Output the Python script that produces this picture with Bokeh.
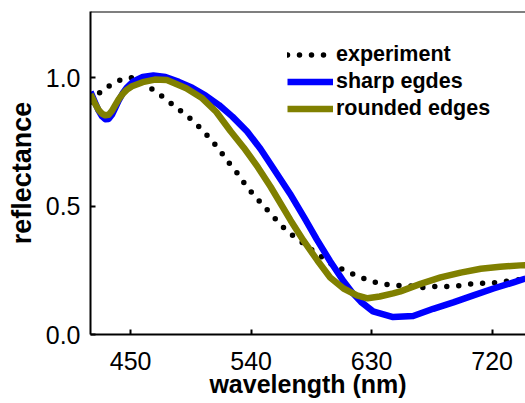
from bokeh.plotting import figure
from bokeh.models import Span, FixedTicker, Range1d, PrintfTickFormatter
from bokeh.embed import file_html
from bokeh.resources import INLINE

# Measured spectrum (dotted) and two simulations
exp_wl = [421, 429, 436.4, 443.2, 452.1, 459.6, 467.0, 474.5, 482.0, 489.5, 496.9,
          504.4, 511.1, 517.1, 523.1, 529.8, 535.0, 541.0, 547.7, 554.4, 561.2,
          567.9, 575.3, 582.8, 590.3, 597.7, 606.7, 616.4, 626.1, 635.8, 646.3,
          656.0, 667.9, 678.4, 688.1, 697.8, 707.5, 715.7, 724.7, 733.7, 742.6, 745]
exp_R = [0.905, 0.954, 0.974, 0.993, 1.001, 0.978, 0.951, 0.923, 0.892, 0.861, 0.830,
         0.791, 0.752, 0.713, 0.670, 0.627, 0.588, 0.549, 0.510, 0.471, 0.432,
         0.397, 0.370, 0.339, 0.312, 0.280, 0.257, 0.234, 0.214, 0.199, 0.191,
         0.191, 0.183, 0.187, 0.187, 0.191, 0.199, 0.199, 0.203, 0.210, 0.214, 0.215]

sharp_wl = [420, 423, 426, 428.5, 431, 433.5, 436, 438.5, 441, 444, 447, 452, 459,
            467, 476, 486, 496, 506, 516, 526, 537, 547, 557, 569, 580, 589, 599,
            609, 616, 622, 631, 646, 661, 676, 691, 706, 721, 736, 745]
sharp_R = [0.945, 0.908, 0.872, 0.850, 0.838, 0.839, 0.855, 0.882, 0.910, 0.938,
           0.960, 0.985, 1.002, 1.008, 1.002, 0.983, 0.960, 0.930, 0.893, 0.848,
           0.790, 0.722, 0.643, 0.548, 0.452, 0.370, 0.285, 0.207, 0.160, 0.127,
           0.090, 0.068, 0.072, 0.100, 0.125, 0.152, 0.179, 0.203, 0.218]

round_wl = [420, 423, 426, 428.5, 431, 433.5, 436, 438.5, 441, 444, 447, 451, 459,
            468, 477, 491.5, 503.5, 514, 524.5, 534.5, 545, 554.5, 569.5, 579,
            589.5, 599, 609, 619, 627, 636, 646, 651.5, 666.5, 681.5, 696.5,
            711.5, 726, 741, 745]
round_R = [0.935, 0.902, 0.874, 0.860, 0.853, 0.855, 0.870, 0.893, 0.915, 0.936,
           0.952, 0.966, 0.982, 0.992, 0.990, 0.958, 0.919, 0.866, 0.792, 0.727,
           0.651, 0.575, 0.444, 0.366, 0.288, 0.222, 0.179, 0.152, 0.141, 0.148,
           0.160, 0.168, 0.197, 0.222, 0.241, 0.256, 0.264, 0.269, 0.270]

x_ticks = [450, 540, 630, 720]
y_ticks = [0.0, 0.5, 1.0]

X_MIN, X_MAX = 420, 744.9
Y_MIN, Y_MAX = 0.0, 1.257

p = figure(width=525, height=403, frame_width=435, frame_height=323,
           output_backend="svg", toolbar_location=None,
           x_range=Range1d(X_MIN, X_MAX), y_range=Range1d(Y_MIN, Y_MAX),
           min_border_left=90, min_border_right=0, min_border_top=11,
           min_border_bottom=69)
p.outline_line_color = None
p.xgrid.visible = False
p.ygrid.visible = False
p.background_fill_color = "white"
p.border_fill_color = "white"

p.line(exp_wl, exp_R, line_color="black", line_width=5.5, line_dash="0 12",
       line_cap="round", legend_label="experiment")
p.line(sharp_wl, sharp_R, line_color="#0000ff", line_width=6.5,
       line_join="round", legend_label="sharp egdes")
p.line(round_wl, round_R, line_color="#808000", line_width=6.5,
       line_join="round", legend_label="rounded edges")

# top spine only
p.add_layout(Span(location=Y_MAX, dimension="width", line_color="black", line_width=2))

for ax in (p.xaxis[0], p.yaxis[0]):
    ax.axis_line_width = 2
    ax.axis_line_color = "black"
    ax.major_tick_line_width = 2
    ax.major_tick_in = 5
    ax.major_tick_out = 0
    ax.minor_tick_line_color = None
    ax.major_label_text_font = "Liberation Sans"
    ax.major_label_text_font_size = "25px"
    ax.major_label_text_color = "black"
    ax.axis_label_text_font = "Liberation Sans"
    ax.axis_label_text_font_style = "bold"
    ax.axis_label_text_color = "black"

p.xaxis.ticker = FixedTicker(ticks=x_ticks)
p.yaxis.ticker = FixedTicker(ticks=y_ticks)
p.yaxis.formatter = PrintfTickFormatter(format="%.1f")
p.xaxis.axis_label = "wavelength (nm)"
p.yaxis.axis_label = "reflectance"
p.xaxis.axis_label_text_font_size = "25px"
p.yaxis.axis_label_text_font_size = "27px"
p.xaxis.major_label_standoff = 17
p.yaxis.major_label_standoff = 10
p.xaxis.axis_label_standoff = -3
p.yaxis.axis_label_standoff = 6

lg = p.legend[0]
lg.location = (197, 212)
lg.border_line_color = None
lg.background_fill_alpha = 0
lg.padding = 0
lg.margin = 0
lg.spacing = 0
lg.glyph_width = 46
lg.glyph_height = 27
lg.label_height = 27
lg.label_standoff = 3
lg.label_text_font = "Liberation Sans"
lg.label_text_font_style = "bold"
lg.label_text_font_size = "21.5px"
lg.label_text_color = "black"

open("out.html", "w").write(file_html(p, INLINE))
